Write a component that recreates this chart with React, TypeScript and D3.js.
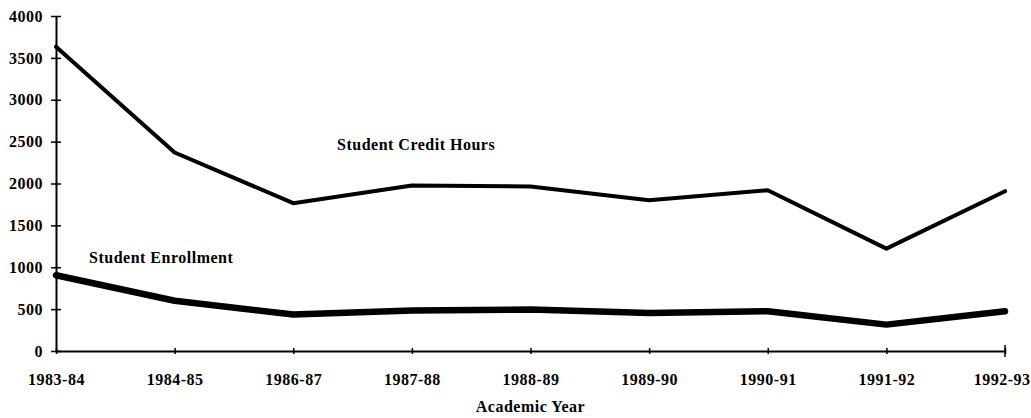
import React, { useEffect, useRef } from "react";
import * as d3 from "d3";

const years = ["1983-84", "1984-85", "1986-87", "1987-88", "1988-89", "1989-90", "1990-91", "1991-92", "1992-93"];
const creditHours = [3633, 2370, 1765, 1975, 1965, 1800, 1920, 1222, 1908];
const enrollment = [905, 600, 435, 485, 495, 455, 475, 315, 475];
const yTicks = [0, 500, 1000, 1500, 2000, 2500, 3000, 3500, 4000];

const W = 1031;
const H = 418;
const FONT = "'Liberation Serif', 'Times New Roman', serif";

export default function App() {
  const ref = useRef<SVGSVGElement>(null);

  useEffect(() => {
    const svg = d3.select(ref.current);
    svg.selectAll("*").remove();

    const left = 56, right = 1005, top = 16, bottom = 351;

    const x = d3.scalePoint<string>().domain(years).range([left, right]);
    const y = d3.scaleLinear().domain([0, 4000]).range([bottom, top]);

    const g = svg.append("g");

    const styleText = (sel: any) =>
      sel.attr("font-family", FONT).attr("font-weight", "bold").attr("font-size", 16)
        .attr("letter-spacing", 0.5).attr("fill", "#000");

    // y axis
    const yAxis = g.append("g").attr("transform", `translate(${left},0)`)
      .call(d3.axisLeft(y).tickValues(yTicks).tickSize(0).tickPadding(13).tickFormat(d3.format("d")));
    yAxis.select(".domain").attr("stroke", "#000").attr("stroke-width", 2);
    styleText(yAxis.selectAll("text"));
    yAxis.selectAll(".tick").append("line")
      .attr("x1", -5).attr("x2", 5).attr("stroke", "#000").attr("stroke-width", 1.5);

    // x axis
    const xAxis = g.append("g").attr("transform", `translate(0,${bottom})`)
      .call(d3.axisBottom(x).tickSize(0).tickPadding(23));
    xAxis.select(".domain").attr("stroke", "#000").attr("stroke-width", 2);
    styleText(xAxis.selectAll("text"));
    // last label sits flush against the right edge
    xAxis.selectAll<SVGTextElement, string>("text")
      .filter((d) => d === years[years.length - 1])
      .attr("text-anchor", "end").attr("x", W - 1 - right);
    xAxis.selectAll(".tick").append("line")
      .attr("y1", -3).attr("y2", 3).attr("stroke", "#000").attr("stroke-width", 1.5);
    g.append("line")
      .attr("x1", x(years[years.length - 1])!).attr("x2", x(years[years.length - 1])!)
      .attr("y1", bottom - 6).attr("y2", bottom + 6)
      .attr("stroke", "#000").attr("stroke-width", 1.5);

    const line = d3.line<number>()
      .x((_, i) => x(years[i])!)
      .y((d) => y(d));

    g.append("path").datum(creditHours).attr("d", line)
      .attr("fill", "none").attr("stroke", "#000").attr("stroke-width", 4)
      .attr("stroke-linejoin", "round").attr("stroke-linecap", "round");
    g.append("path").datum(enrollment).attr("d", line)
      .attr("fill", "none").attr("stroke", "#000").attr("stroke-width", 6.5)
      .attr("stroke-linejoin", "round").attr("stroke-linecap", "round");

    const label = (text: string, lx: number, ly: number, anchor = "start") =>
      styleText(g.append("text").attr("x", lx).attr("y", ly).attr("text-anchor", anchor)).text(text);

    label("Student Credit Hours", 337, 150);
    label("Student Enrollment", 89, 263);
    label("Academic Year", (left + right) / 2, 412, "middle");
  }, []);

  return <svg ref={ref} width={W} height={H} style={{ position: "absolute", left: 0, top: 0, background: "#fff" }} />;
}
